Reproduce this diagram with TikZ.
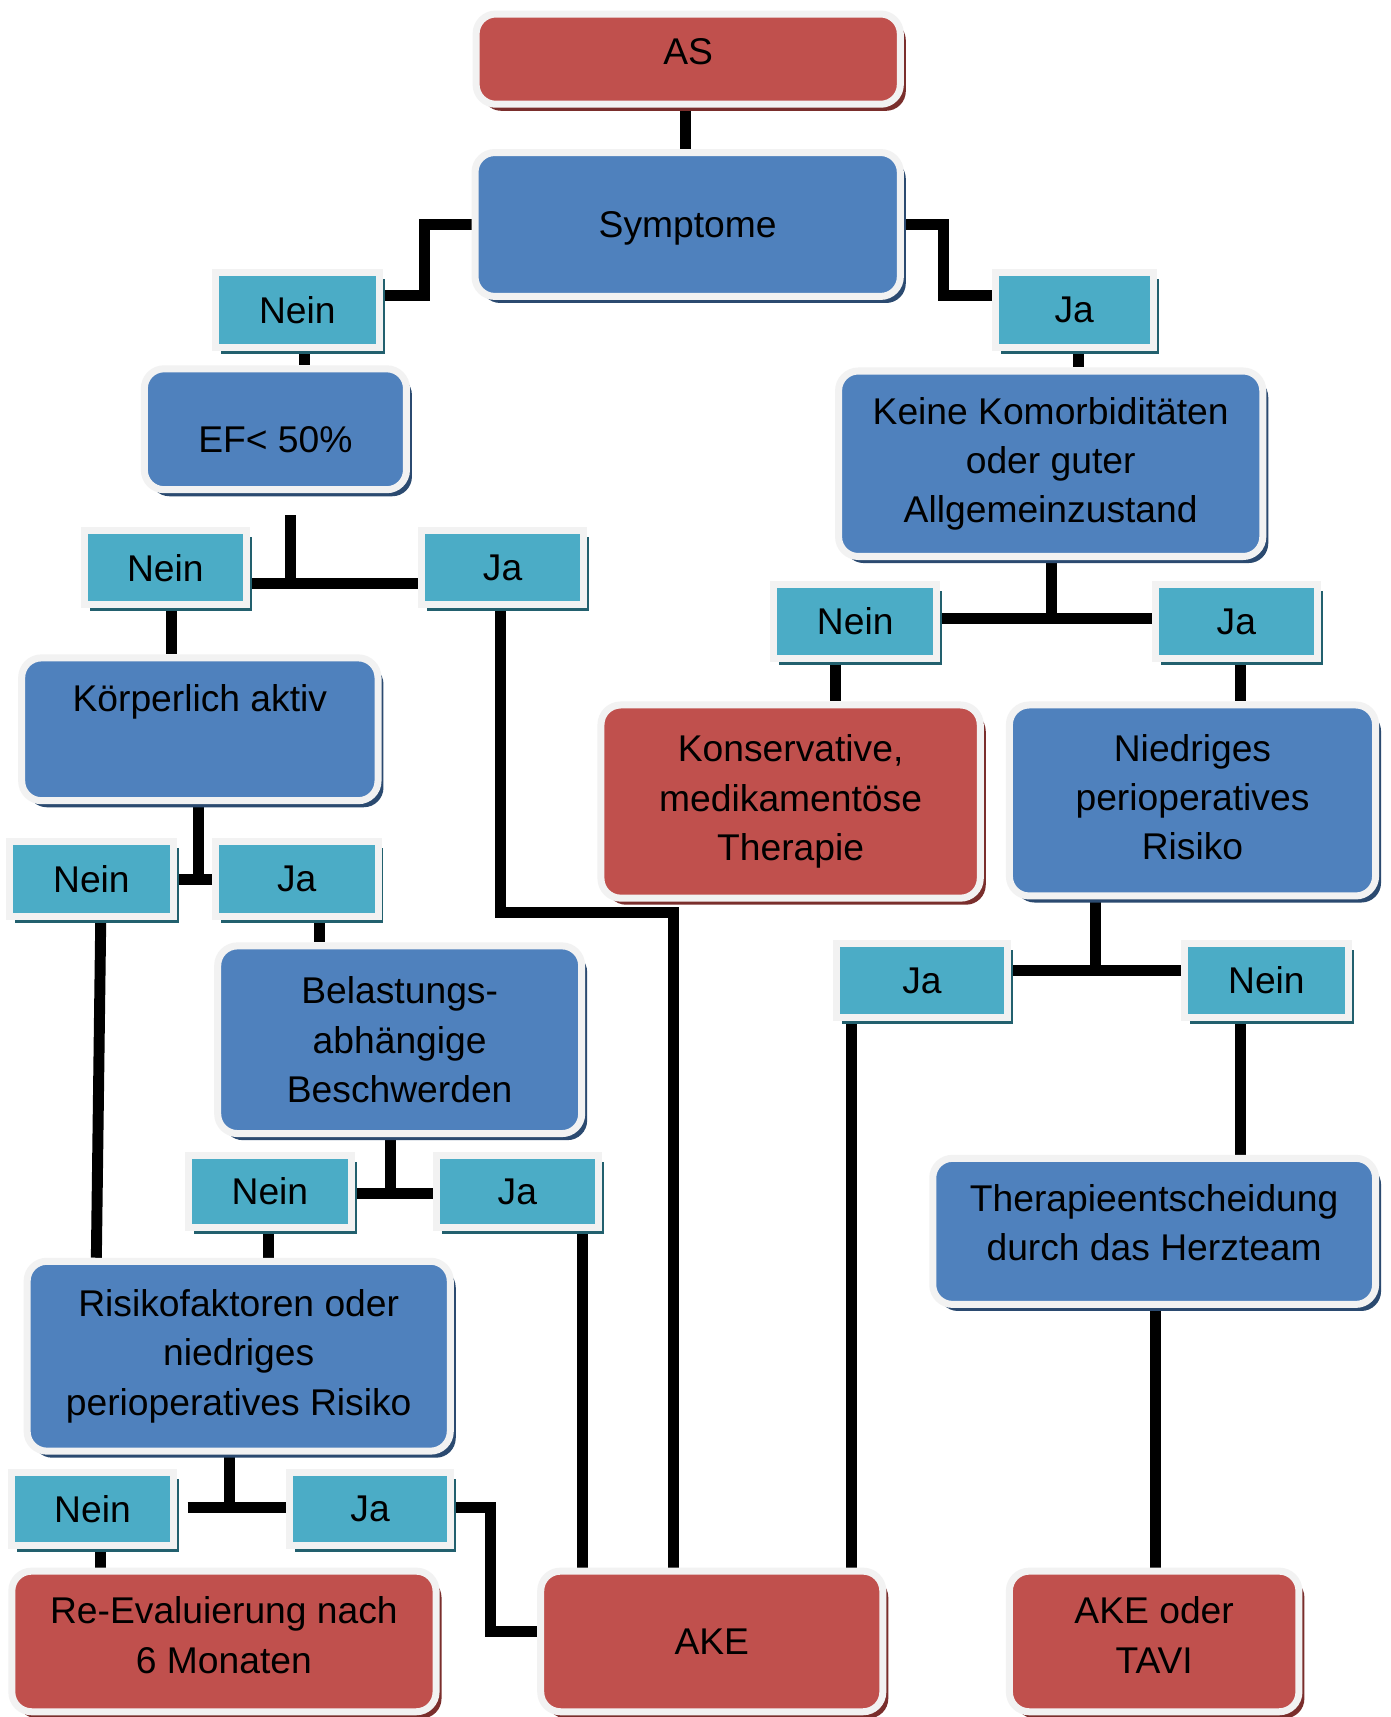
\documentclass[tikz,border=0pt]{standalone}
\usepackage{fontspec}
\setmainfont{Liberation Sans}
\usetikzlibrary{shadows,backgrounds,calc}
\definecolor{cred}{HTML}{C0504D}
\definecolor{cblue}{HTML}{4F81BD}
\definecolor{cteal}{HTML}{4BACC6}
\definecolor{cbord}{HTML}{F2F2F2}
\definecolor{sred}{HTML}{7A2E2C}
\definecolor{sblue}{HTML}{2B4A70}
\definecolor{steal}{HTML}{22606E}
\tikzset{
  box/.style={draw=cbord, line width=3.2pt, inner sep=0pt, align=center,
    font=\fontsize{17}{22.5}\selectfont, text=black},
  redbox/.style={box, fill=cred, rounded corners=9pt,
    drop shadow={shadow xshift=2.5pt, shadow yshift=-3pt, fill=sred, opacity=1}},
  bluebox/.style={box, fill=cblue, rounded corners=9pt,
    drop shadow={shadow xshift=2.5pt, shadow yshift=-3pt, fill=sblue, opacity=1}},
  tealbox/.style={box, fill=cteal,
    drop shadow={shadow xshift=2.5pt, shadow yshift=-3pt, fill=steal, opacity=1}},
  conn/.style={line width=5pt, black, line join=miter},
}
\begin{document}
\begin{tikzpicture}[x=0.5pt,y=-0.5pt]
\useasboundingbox (0,0) rectangle (1270,1568);
% boxes
\node[redbox, minimum width=193.7pt, minimum height=41.2pt] (AS) at (628.5,54) {AS\\[-15.5pt]\mbox{}};
\node[bluebox, minimum width=194.2pt, minimum height=65.7pt] (Sym) at (628,205) {\mbox{}\\[-7.3pt]Symptome};
\node[tealbox, minimum width=74.7pt, minimum height=34.2pt] (NeinA) at (271.5,283) {Nein};
\node[tealbox, minimum width=72.2pt, minimum height=34.2pt] (JaA) at (981,283) {Ja};
\node[bluebox, minimum width=119.7pt, minimum height=55.2pt] (EF) at (251.5,392) {\mbox{}\\[-1.3pt]EF< 50\%};
\node[bluebox, minimum width=193.7pt, minimum height=84.7pt] (Keine) at (959.5,423.5) {Keine Komorbiditäten\\oder guter\\Allgemeinzustand};
\node[tealbox, minimum width=74.2pt, minimum height=33.7pt] (NeinB) at (151,518.5) {Nein};
\node[tealbox, minimum width=74.2pt, minimum height=33.7pt] (JaB) at (459,518.5) {Ja};
\node[bluebox, minimum width=162.7pt, minimum height=65.2pt] (Kor) at (182.5,666) {Körperlich aktiv\\[6.5pt]\mbox{}};
\node[tealbox, minimum width=74.2pt, minimum height=33.7pt] (NeinC) at (781,567.5) {Nein};
\node[tealbox, minimum width=74.2pt, minimum height=33.7pt] (JaC) at (1129,567.5) {Ja};
\node[redbox, minimum width=173.2pt, minimum height=88.2pt] (Kons) at (722,732) {Konservative,\\medikamentöse\\Therapie};
\node[bluebox, minimum width=167.2pt, minimum height=87.2pt] (Nied) at (1089,731) {Niedriges\\perioperatives\\Risiko\\[-19.5pt]\mbox{}};
\node[tealbox, minimum width=74.7pt, minimum height=34.2pt] (NeinD) at (83.5,803) {Nein};
\node[tealbox, minimum width=74.2pt, minimum height=34.2pt] (JaD) at (271,803) {Ja};
\node[bluebox, minimum width=166.2pt, minimum height=85.7pt] (Bel) at (365,949.5) {Belastungs-\\abhängige\\Beschwerden};
\node[tealbox, minimum width=78.2pt, minimum height=33.7pt] (JaE) at (842,895.5) {Ja};
\node[tealbox, minimum width=74.7pt, minimum height=33.7pt] (NeinE) at (1156.5,895.5) {Nein};
\node[tealbox, minimum width=74.7pt, minimum height=33.2pt] (NeinF) at (246.5,1088) {Nein};
\node[tealbox, minimum width=73.7pt, minimum height=33.2pt] (JaF) at (472.5,1088) {Ja};
\node[bluebox, minimum width=202.2pt, minimum height=66.7pt] (Ther) at (1054,1124.5) {Therapieentscheidung\\durch das Herzteam\\[-14.5pt]\mbox{}};
\node[bluebox, minimum width=193.2pt, minimum height=86.7pt] (Ris) at (218,1238.5) {Risikofaktoren oder\\niedriges\\perioperatives Risiko};
\node[tealbox, minimum width=73.7pt, minimum height=33.2pt] (NeinG) at (84.5,1378) {Nein};
\node[tealbox, minimum width=73.2pt, minimum height=33.2pt] (JaG) at (338,1378) {Ja};
\node[redbox, minimum width=193.7pt, minimum height=64.2pt] (ReE) at (204.5,1499) {Re-Evaluierung nach\\6 Monaten\\[-16.5pt]\mbox{}};
\node[redbox, minimum width=156.2pt, minimum height=64.2pt] (AKE) at (650,1499) {AKE};
\node[redbox, minimum width=132.2pt, minimum height=64.2pt] (AKEoT) at (1054,1499) {AKE oder\\TAVI\\[-16.5pt]\mbox{}};
% connectors
\begin{scope}[on background layer]
\fill[white] (0,0) rectangle (1270,1568);
\coordinate (efj) at (265,533);
\coordinate (korj) at (181,803);
\coordinate (belj) at (357,1090);
\coordinate (risj) at (210,1377);
\coordinate (keij) at (960,565);
\coordinate (niej) at (1000,886);
\draw[conn] (626,0 |- AS.south) -- (626,0 |- Sym.north);
\draw[conn] (Sym.west) -| (388,270) -- (NeinA.east |- 388,270);
\draw[conn] (Sym.east) -| (862,270) -- (JaA.west |- 862,270);
\draw[conn] (278,0 |- NeinA.south) -- (278,0 |- EF.north);
\draw[conn] (985,0 |- JaA.south) -- (985,0 |- Keine.north);
\draw[conn] ($(265,0 |- EF.south)+(0,20)$) -- (efj);
\draw[conn] (NeinB.east |- efj) -- (JaB.west |- efj);
\draw[conn] (157,0 |- NeinB.south) -- (157,0 |- Kor.north);
\draw[conn] (457,0 |- JaB.south) -- (457,833) -| (615,0 |- AKE.north);
\draw[conn] (181,0 |- Kor.south) -- (korj);
\draw[conn] (NeinD.east |- korj) -- (JaD.west |- korj);
\draw[conn] (92,0 |- NeinD.south) -- (88,0 |- Ris.north);
\draw[conn] (292,0 |- JaD.south) -- (292,0 |- Bel.north);
\draw[conn] (357,0 |- Bel.south) -- (belj);
\draw[conn] (NeinF.east |- belj) -- (JaF.west |- belj);
\draw[conn] (245,0 |- NeinF.south) -- (245,0 |- Ris.north);
\draw[conn] (532,0 |- JaF.south) -- (532,0 |- AKE.north);
\draw[conn] (210,0 |- Ris.south) -- (risj);
\draw[conn] ($(NeinG.east |- risj)+(10,0)$) -- (JaG.west |- risj);
\draw[conn] (92,0 |- NeinG.south) -- (92,0 |- ReE.north);
\draw[conn] (JaG.east |- risj) -| (448,1490) -- (AKE.west |- 0,1490);
\draw[conn] (960,0 |- Keine.south) -- (keij);
\draw[conn] (NeinC.east |- keij) -- (JaC.west |- keij);
\draw[conn] (763,0 |- NeinC.south) -- (763,0 |- Kons.north);
\draw[conn] (1133,0 |- JaC.south) -- (1133,0 |- Nied.north);
\draw[conn] (1000,0 |- Nied.south) -- (niej);
\draw[conn] (JaE.east |- niej) -- (NeinE.west |- niej);
\draw[conn] (778,0 |- JaE.south) -- (778,0 |- AKE.north);
\draw[conn] (1133,0 |- NeinE.south) -- (1133,0 |- Ther.north);
\draw[conn] (1055,0 |- Ther.south) -- (1055,0 |- AKEoT.north);
\end{scope}
\end{tikzpicture}
\end{document}
